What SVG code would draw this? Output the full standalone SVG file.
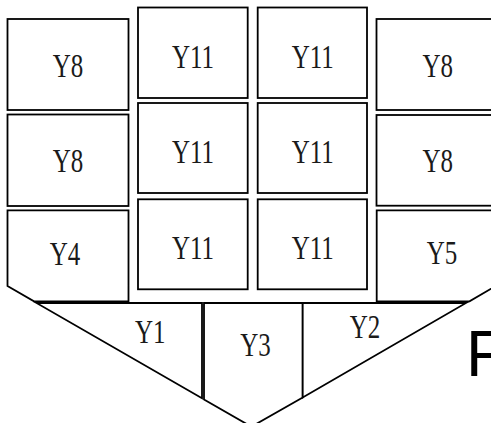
<svg xmlns="http://www.w3.org/2000/svg" width="491" height="423" viewBox="0 0 491 423">
<style>
.b{fill:#fff;stroke:#000;stroke-width:1.8;stroke-linejoin:miter}
.t{font-family:"Liberation Serif","DejaVu Serif",serif;font-size:25px;fill:#1a1a1a;text-anchor:middle}
.f{font-family:"Liberation Sans",Arial,sans-serif;font-size:64px;fill:#000}
</style>
<rect width="491" height="423" fill="#fff"/>
<g id="left-col">
<g id="y8-l1"><rect class="b" x="7.5" y="19" width="121" height="91"/><text class="t" transform="translate(68,77.3) scale(1,1.32)">Y8</text></g>
<g id="y8-l2"><rect class="b" x="7.5" y="114.5" width="121" height="91.5"/><text class="t" transform="translate(68,171.7) scale(1,1.32)">Y8</text></g>
<g id="y4"><polygon class="b" points="7.5,210.3 128.5,210.3 128.5,301.3 34,301.3 7.5,286"/><text class="t" transform="translate(65,265) scale(1,1.32)">Y4</text></g>
</g>
<g id="mid-col">
<g id="y11-a1"><rect class="b" x="138" y="7.5" width="109.7" height="90.5"/><text class="t" transform="translate(193,68.3) scale(1,1.32)">Y11</text></g>
<g id="y11-a2"><rect class="b" x="138" y="103" width="109.7" height="90"/><text class="t" transform="translate(193,163.3) scale(1,1.32)">Y11</text></g>
<g id="y11-a3"><rect class="b" x="138" y="199.3" width="109.7" height="90"/><text class="t" transform="translate(193,259.3) scale(1,1.32)">Y11</text></g>
<g id="y11-b1"><rect class="b" x="257.7" y="7.5" width="109.3" height="90.5"/><text class="t" transform="translate(312.8,68.3) scale(1,1.32)">Y11</text></g>
<g id="y11-b2"><rect class="b" x="257.7" y="103" width="109.3" height="90"/><text class="t" transform="translate(312.8,163.3) scale(1,1.32)">Y11</text></g>
<g id="y11-b3"><rect class="b" x="257.7" y="199.3" width="109.3" height="90"/><text class="t" transform="translate(312.8,259.3) scale(1,1.32)">Y11</text></g>
</g>
<g id="right-col">
<g id="y8-r1"><rect class="b" x="376.5" y="19" width="125" height="91"/><text class="t" transform="translate(437.8,77.3) scale(1,1.32)">Y8</text></g>
<g id="y8-r2"><rect class="b" x="376.5" y="115" width="125" height="90.7"/><text class="t" transform="translate(437.8,172.3) scale(1,1.32)">Y8</text></g>
<g id="y5"><polygon class="b" points="376.7,210.3 505,210.3 505,280.5 469.5,301.3 376.7,301.3"/><text class="t" transform="translate(442,264.3) scale(1,1.32)">Y5</text></g>
</g>
<g id="bottom">
<g id="y1"><polygon class="b" points="36.5,303 202,303 202,398.3"/><text class="t" transform="translate(150.3,343.3) scale(1,1.32)">Y1</text></g>
<g id="y3"><polygon class="b" points="204,303 302.7,303 302.7,397.5 251.4,426.7 204,399.5"/><text class="t" transform="translate(255.5,355.7) scale(1,1.32)">Y3</text></g>
<g id="y2"><polygon class="b" points="302.7,303 466,303 302.7,397.5"/><text class="t" transform="translate(365,338.3) scale(1,1.32)">Y2</text></g>
</g>
<g id="connectors"></g>
<text class="f" x="466" y="376">F</text>
</svg>
